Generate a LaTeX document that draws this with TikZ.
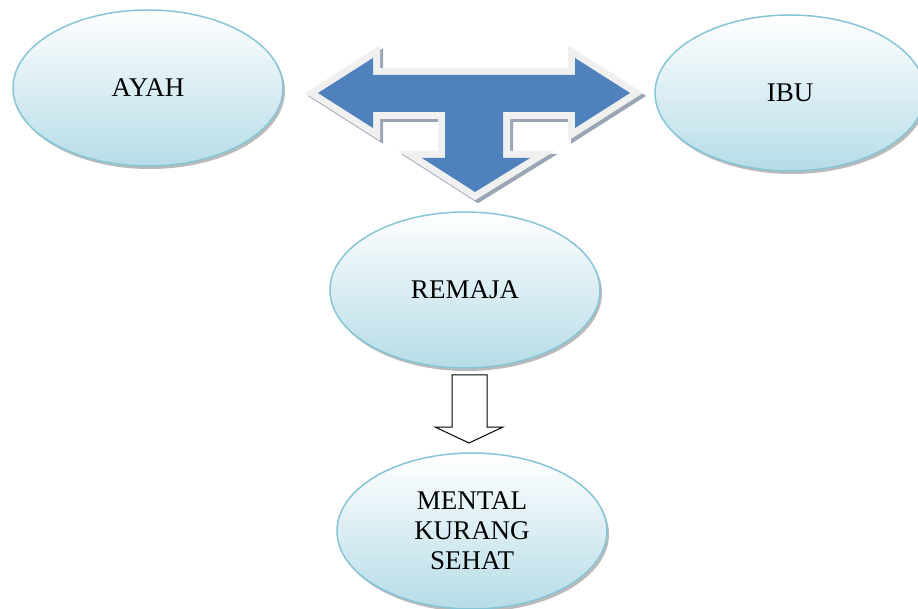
\documentclass[tikz,border=0pt]{standalone}
\usepackage{fontspec}
\setmainfont{Liberation Serif}
\usetikzlibrary{shapes.geometric,shadows}
\definecolor{ovalborder}{HTML}{86C5D6}
\definecolor{ovalbottom}{HTML}{B6DCE7}
\definecolor{arrowblue}{HTML}{4F81BD}
\definecolor{arrowrim}{HTML}{F0F0F0}
\definecolor{arrowshadow}{HTML}{9AA6B6}
\tikzset{
  oval/.style={ellipse, minimum width=270pt, minimum height=156pt, inner sep=0pt,
    draw=ovalborder, line width=1.5pt, top color=white, bottom color=ovalbottom,
    drop shadow={shadow xshift=2pt, shadow yshift=-3pt, fill=black!45, opacity=0.6},
    font=\fontsize{27}{30}\selectfont, align=center},
  outlinearrow/.style={draw=black, line width=1pt, fill=white, line join=miter},
}
\begin{document}
\begin{tikzpicture}[x=1pt,y=-1pt]
\useasboundingbox (0,0) rectangle (918,609);
% T-shaped arrow
\def\tpath{(318,93) -- (373,58) -- (373,75) -- (575,75) -- (575,58) -- (630,93) -- (575,128) -- (575,112) -- (503,112) -- (503,158) -- (530,158) -- (475,192) -- (422,158) -- (445,158) -- (445,112) -- (373,112) -- (373,128) -- cycle}
\begin{scope}[shift={(3,3)}]
  \draw[draw=arrowshadow, fill=arrowshadow, line width=14pt, line join=miter] \tpath;
\end{scope}
\draw[draw=arrowrim, fill=arrowrim, line width=14pt, line join=miter] \tpath;
\fill[arrowblue] \tpath;
% ovals
\node[oval] (ayah) at (148,88) {AYAH};
\node[oval] (ibu) at (790,93) {IBU};
\node[oval] (remaja) at (465,290) {REMAJA};
\node[oval] (mental) at (472,531) {MENTAL\\KURANG\\SEHAT};
% outline down arrow
\draw[outlinearrow] (452,375) -- (487,375) -- (487,427) -- (503,427) -- (469,443) -- (435,427) -- (452,427) -- cycle;
\end{tikzpicture}
\end{document}
